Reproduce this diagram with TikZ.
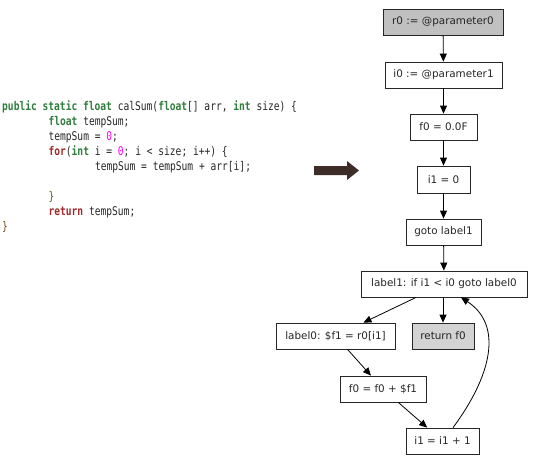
\documentclass[tikz,border=0pt]{standalone}
\usepackage{fontspec}
\usetikzlibrary{arrows.meta}
\newfontfamily\codefont[FakeStretch=0.8]{DejaVu Sans Mono}
\newfontfamily\boxfont{DejaVu Sans}
\definecolor{kwgreen}{HTML}{2E7D3C}
\definecolor{kwred}{HTML}{A0282A}
\definecolor{nummag}{HTML}{FF00FF}
\definecolor{bracebrown}{HTML}{6B4F1D}
\definecolor{bigarrow}{HTML}{3E2C28}
\definecolor{graydark}{HTML}{C0C0C0}
\definecolor{graylight}{HTML}{D3D3D3}
\newcommand{\kwg}[1]{\textcolor{kwgreen}{\bfseries #1}}
\newcommand{\kwr}[1]{\textcolor{kwred}{\bfseries #1}}
\newcommand{\numc}[1]{\textcolor{nummag}{#1}}
\newcommand{\brc}[1]{\textcolor{bracebrown}{#1}}
\begin{document}
\begin{tikzpicture}[x=1pt,y=-1pt,
  codeline/.style={anchor=base west,inner sep=0pt,font=\codefont\fontsize{12}{14}\selectfont,text=black!85},
  blk/.style={draw=black!85,line width=0.8pt,inner sep=0pt,font=\boxfont\fontsize{10.4}{12}\selectfont,text=black!85},
  edge/.style={draw=black,line width=0.8pt,-{Triangle[length=8pt,width=7pt]}}]
\useasboundingbox (0,0) rectangle (535,461);
% code
\node[codeline] (c1) at (2,110.5) {\kwg{public} \kwg{static} \kwg{float} calSum(\kwg{float}[] arr, \kwg{int} size) \{};
\node[codeline] (c2) at (48.4,125.5) {\kwg{float} tempSum;};
\node[codeline] (c3) at (48.4,140.5) {tempSum = \numc{0};};
\node[codeline] (c4) at (48.4,155.5) {\kwr{for}(\kwg{int} i = \numc{0}; i < size; i++) \{};
\node[codeline] (c5) at (94.8,170.5) {tempSum = tempSum + arr[i];};
\node[codeline] (c7) at (48.4,200.5) {\brc{\}}};
\node[codeline] (c8) at (48.4,215.5) {\kwr{return} tempSum;};
\node[codeline] (c9) at (2,230.5) {\brc{\}}};
% big arrow
\fill[bigarrow] (314,166) -- (347,166) -- (347,161) -- (359,170.5) -- (347,180) -- (347,175) -- (314,175) -- cycle;
% graph
\node[blk,fill=graydark,minimum width=120pt,minimum height=26pt] (r0) at (443,22) {r0 := @parameter0};
\node[blk,minimum width=117pt,minimum height=26pt] (i0) at (443.5,75) {i0 := @parameter1};
\node[blk,minimum width=67pt,minimum height=26pt] (f0) at (443.5,127) {f0 = 0.0F};
\node[blk,minimum width=53pt,minimum height=27pt] (i1) at (443.5,179.5) {i1 = 0};
\node[blk,minimum width=75pt,minimum height=26pt] (gt) at (443.5,232) {goto label1};
\node[blk,minimum width=166pt,minimum height=26pt] (l1) at (444,284) {label1: if i1 < i0 goto label0};
\node[blk,minimum width=119pt,minimum height=26pt] (l0) at (335.5,336) {label0: \$f1 = r0[i1]};
\node[blk,fill=graylight,minimum width=62pt,minimum height=26pt] (ret) at (443,336) {return f0};
\node[blk,minimum width=86pt,minimum height=26pt] (f0b) at (383,389) {f0 = f0 + \$f1};
\node[blk,minimum width=73pt,minimum height=26pt] (i1b) at (442.5,441) {i1 = i1 + 1};
\draw[edge] (r0) -- (i0);
\draw[edge] (i0) -- (f0);
\draw[edge] (f0) -- (i1);
\draw[edge] (i1) -- (gt);
\draw[edge] (gt) -- (l1);
\draw[edge] (l1) -- (l0);
\draw[edge] (l1.south -| ret.north) -- (ret);
\draw[edge] (l0) -- (f0b);
\draw[edge] (f0b) -- (i1b);
\draw[edge] ([xshift=10.5pt]i1b.north) .. controls (492,375) and (503,325) .. ([xshift=17pt]l1.south);
\end{tikzpicture}
\end{document}
